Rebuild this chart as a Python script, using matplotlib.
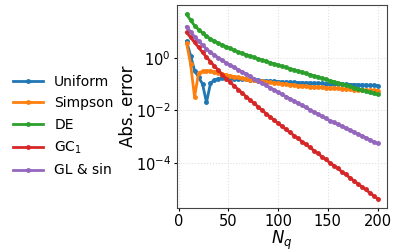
import numpy as np
import matplotlib
matplotlib.use("Agg")
import matplotlib.pyplot as plt

# quadrature points
n_q = list(range(8, 201, 4))

# log10 of absolute error
uniform_log10 = [0.62, 0.08, -0.49, -0.74, -1.00, -1.70, -0.98, -0.84, -0.80, -0.79,
                 -0.79, -0.79, -0.80, -0.80, -0.81, -0.82, -0.83, -0.84, -0.86, -0.87,
                 -0.88, -0.89, -0.90, -0.91, -0.92, -0.93, -0.93, -0.94, -0.95, -0.95,
                 -0.96, -0.96, -0.97, -0.97, -0.98, -0.99, -0.99, -1.00, -1.00, -1.01,
                 -1.01, -1.02, -1.02, -1.03, -1.04, -1.04, -1.05, -1.05, -1.06]
simpson_log10 = [0.54, -0.24, -1.50, -0.58, -0.52, -0.50, -0.50, -0.53, -0.58, -0.62,
                 -0.66, -0.69, -0.72, -0.75, -0.78, -0.81, -0.83, -0.86, -0.88, -0.90,
                 -0.92, -0.94, -0.96, -0.98, -0.99, -1.01, -1.03, -1.04, -1.06, -1.07,
                 -1.09, -1.10, -1.11, -1.12, -1.13, -1.14, -1.15, -1.16, -1.17, -1.18,
                 -1.19, -1.20, -1.21, -1.22, -1.22, -1.23, -1.24, -1.24, -1.25]
de_log10 = [1.65, 1.42, 1.22, 1.07, 0.94, 0.82, 0.72, 0.63, 0.55, 0.48,
            0.42, 0.35, 0.28, 0.21, 0.16, 0.11, 0.06, 0.01, -0.04, -0.09,
            -0.14, -0.19, -0.23, -0.28, -0.33, -0.37, -0.42, -0.46, -0.51, -0.55,
            -0.60, -0.64, -0.69, -0.73, -0.78, -0.82, -0.87, -0.91, -0.96, -1.00,
            -1.05, -1.09, -1.14, -1.18, -1.23, -1.27, -1.32, -1.36, -1.40]
gc1_log10 = [0.96, 0.77, 0.58, 0.39, 0.20, 0.02, -0.15, -0.32, -0.48, -0.64,
             -0.80, -0.94, -1.08, -1.21, -1.35, -1.48, -1.61, -1.74, -1.87, -2.00,
             -2.13, -2.25, -2.37, -2.50, -2.61, -2.73, -2.84, -2.96, -3.07, -3.19,
             -3.30, -3.41, -3.53, -3.64, -3.76, -3.87, -3.99, -4.10, -4.21, -4.33,
             -4.44, -4.56, -4.67, -4.79, -4.90, -5.01, -5.13, -5.24, -5.36]
glsin_log10 = [1.18, 0.98, 0.80, 0.63, 0.48, 0.33, 0.21, 0.10, 0.00, -0.10,
               -0.20, -0.29, -0.37, -0.46, -0.54, -0.63, -0.71, -0.80, -0.88, -0.97,
               -1.05, -1.14, -1.22, -1.31, -1.39, -1.48, -1.56, -1.64, -1.73, -1.81,
               -1.89, -1.98, -2.06, -2.14, -2.23, -2.31, -2.39, -2.46, -2.53, -2.61,
               -2.68, -2.75, -2.82, -2.90, -2.97, -3.04, -3.12, -3.19, -3.26]

labels = ["Uniform", "Simpson", "DE", r"GC$_1$", "GL & sin"]
colors = ["#1f77b4", "#ff7f0e", "#2ca02c", "#d62728", "#9467bd"]
series = [uniform_log10, simpson_log10, de_log10, gc1_log10, glsin_log10]

fig = plt.figure(figsize=(3.97, 2.52), dpi=100)
ax = fig.add_axes([0.446, 0.175, 0.529, 0.805])

for vals, lab, col in zip(series, labels, colors):
    ax.plot(n_q, np.power(10.0, vals), marker=".", markersize=5, linewidth=2,
            color=col, label=lab)

ax.set_yscale("log")
ax.set_yticks([1e-4, 1e-2, 1e0])
ax.yaxis.set_minor_locator(matplotlib.ticker.NullLocator())
ax.set_xticks([0, 50, 100, 150, 200])
ax.tick_params(labelsize=10.5, length=2, pad=2.5)
ax.grid(True, color="#e0e0e0", linestyle=":", linewidth=0.8)
for s in ax.spines.values():
    s.set_color("#444444")
ax.set_xlabel(r"$N_q$", fontsize=12, labelpad=-0.5)
ax.set_ylabel("Abs. error", fontsize=12, labelpad=-1)

fig.legend(loc="center left", bbox_to_anchor=(0.0, 0.50), frameon=False,
           fontsize=10, handlelength=2.2, labelspacing=0.55)

fig.savefig("out.png", dpi=100)
